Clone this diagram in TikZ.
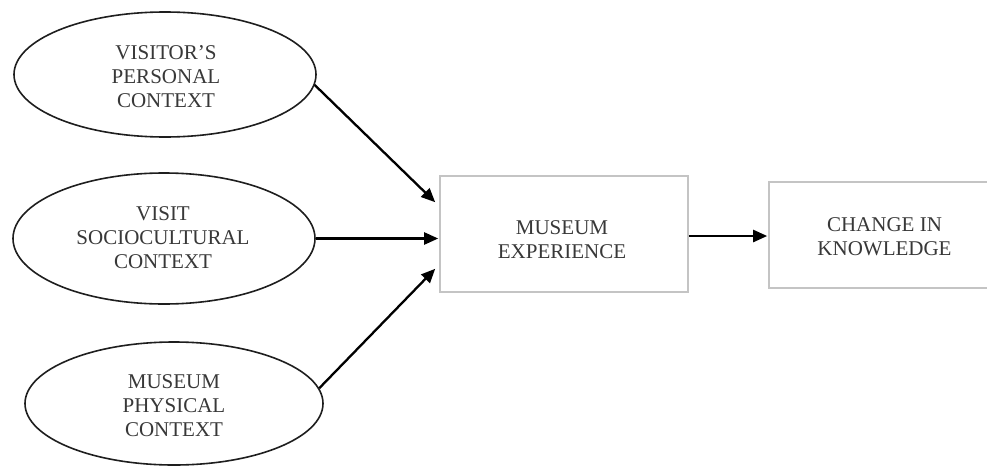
\documentclass[tikz,border=0pt]{standalone}
\usepackage{fontspec}
\setmainfont{Liberation Serif}
\usetikzlibrary{shapes.geometric,arrows.meta,calc}
\definecolor{labelgray}{HTML}{383838}
\definecolor{framegray}{HTML}{C4C4C4}
\definecolor{rimdark}{HTML}{1E1E1E}
\tikzset{
  lbl/.style={align=center, text=labelgray, inner sep=0pt,
    font=\fontsize{21}{23.8}\selectfont},
  ctx/.style={ellipse, draw=rimdark, line width=1.6pt, inner sep=0pt, lbl},
  stage/.style={rectangle, draw=framegray, line width=1.6pt, inner sep=0pt},
  flow/.style={line width=2.3pt, black, -{Triangle[length=14pt,width=12pt]}}
}
\begin{document}
\begin{tikzpicture}[x=1pt,y=-1pt]
  \useasboundingbox (0,0) rectangle (987,466);
  \clip (0,0) rectangle (987,466);
  \fill[white] (0,0) rectangle (987,466);

  % three contexts
  \node[ctx, minimum width=302pt, minimum height=125pt] (personal) at (165,74.5) {};
  \node[lbl] (personalText) at (166,76.5) {VISITOR'S\\PERSONAL\\CONTEXT};
  \node[ctx, minimum width=302pt, minimum height=131pt] (social) at (164,238.5) {};
  \node[lbl] (socialText) at (163,237.5) {VISIT\\SOCIOCULTURAL\\CONTEXT};
  \node[ctx, minimum width=298pt, minimum height=123pt] (physical) at (174,403.5) {};
  \node[lbl] (physicalText) at (174,405.5) {MUSEUM\\PHYSICAL\\CONTEXT};

  % experience and outcome
  \node[stage, minimum width=248pt, minimum height=116pt] (experience) at (564,234) {};
  \node[lbl] (experienceText) at (562,239.5) {MUSEUM\\EXPERIENCE};
  \node[stage, minimum width=231pt, minimum height=106pt] (knowledge) at (884.5,235) {};
  \node[lbl] (knowledgeText) at (884.5,236.5) {CHANGE IN\\KNOWLEDGE};

  % connectors
  \coordinate (inTop) at ($(experience.north west)+(-4,27)$);
  \coordinate (inBot) at ($(experience.south west)+(-4,-24)$);
  \draw[flow] (personal.-4) -- (inTop);
  \draw[flow] (social.east) -- ($(social.east -| experience.west)+(-1,0)$);
  \draw[flow] (physical.6) -- (inBot);
  \draw[flow] ($(experience.east)+(0,2)$) -- ($(experience.east -| knowledge.west)+(-1,2)$);
\end{tikzpicture}
\end{document}
